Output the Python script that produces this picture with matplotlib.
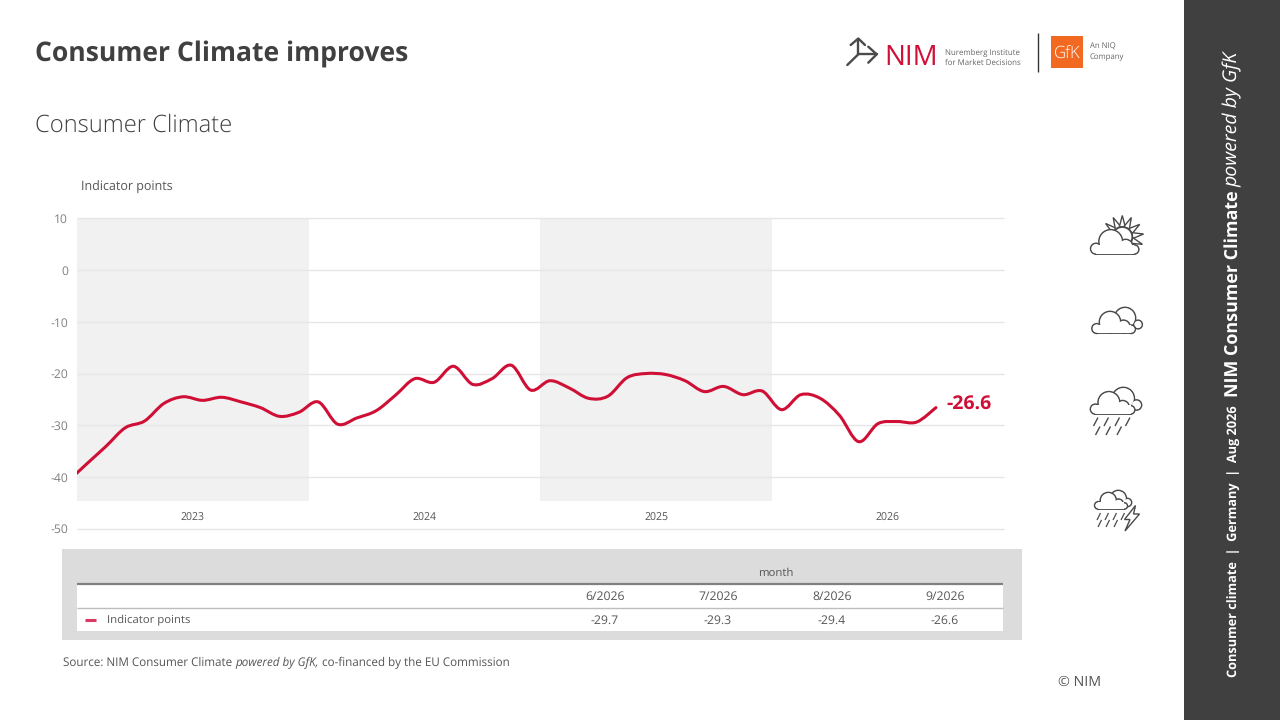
import matplotlib
matplotlib.use("Agg")
import matplotlib.pyplot as plt
from matplotlib.path import Path
from matplotlib.patches import PathPatch, Rectangle, Circle, Polygon
import numpy as np

plt.rcParams['font.family'] = ['Open Sans', 'DejaVu Sans']
plt.rcParams['axes.unicode_minus'] = False
plt.rcParams['lines.solid_capstyle'] = 'butt'
plt.rcParams['text.hinting'] = 'no_hinting'  # widths scale evenly with font size

# monthly values, first one is Dec 2022 (cut off by the axis), last is Sep 2026
values = [-41.0, -37.5, -34.1, -30.5, -29.2, -25.8, -24.5, -25.2, -24.6, -25.5, -26.6, -28.3, -27.5,
          -25.5, -29.8, -28.6, -27.2, -24.2, -21.0, -21.7, -18.6, -22.1, -21.0, -18.4, -23.2,
          -21.4, -22.8, -24.8, -24.4, -20.8, -20.0, -20.2, -21.4, -23.5, -22.5, -24.1, -23.4,
          -27.0, -24.1, -24.8, -28.1, -33.2, -29.7, -29.3, -29.4, -26.6]
months = list(range(-1, 45))
years = [2023, 2024, 2025, 2026]
yticks = [10, 0, -10, -20, -30, -40, -50]

table_months = ["6/2026", "7/2026", "8/2026", "9/2026"]
table_values = ["-29.7", "-29.3", "-29.4", "-26.6"]

RED = "#cf0f35"
DARK = "#404040"
GREY = "#7f7f7f"
ICON = "#4a4a4a"

fig = plt.figure(figsize=(12.8, 7.2), dpi=100, facecolor="white")

# overlay in pixel coordinates for the slide furniture
bg = fig.add_axes([0, 0, 1, 1], zorder=0)
bg.set_xlim(0, 1280)
bg.set_ylim(720, 0)
bg.axis("off")

# chart
ax = fig.add_axes([77/1280, 1-528.5/720, (1003.5-77)/1280, (528.5-218.5)/720], zorder=1)
ax.patch.set_alpha(0)
ax.set_xlim(-0.5, 47.5)
ax.set_ylim(-50, 10)
for s in ax.spines.values():
    s.set_visible(False)
ax.set_yticks(yticks)
ax.set_xticks([])
ax.tick_params(axis="y", length=0, pad=6.5, labelsize=8.7, labelcolor=GREY)
ax.grid(axis="y", color="#e6e6e6", lw=1)
for gl in ax.get_ygridlines():
    gl.set_clip_on(False)
    gl.set_solid_capstyle("butt")
ax.set_axisbelow(True)

for i, yr in enumerate(years):
    if i % 2 == 0:
        ax.fill_between([i*12-0.5, i*12+11.5], -44.6, 10, color="#f1f1f1", lw=0, zorder=0)
    ax.text(i*12+5.5, -47.9, str(yr), ha="center", va="center", fontsize=7.6, color="#555555")


# smoothed line, same look as the office chart (catmull-rom turned into beziers)
def smooth_path(x, y):
    pts = np.column_stack([x, y])
    verts = [pts[0]]
    codes = [Path.MOVETO]
    for k in range(len(pts)-1):
        p0 = pts[max(k-1, 0)]
        p1 = pts[k]
        p2 = pts[k+1]
        p3 = pts[min(k+2, len(pts)-1)]
        verts += [p1+(p2-p0)/6, p2-(p3-p1)/6, p2]
        codes += [Path.CURVE4]*3
    return Path(verts, codes)


ax.add_patch(PathPatch(smooth_path(months, values), fc="none", ec=RED, lw=2.2, capstyle="round", zorder=3))
ax.annotate("-26.6", (months[-1], values[-1]), xytext=(7.5, 2.3), textcoords="offset points",
            color=RED, fontsize=14, fontweight="bold", va="center", ha="left")

# titles
bg.text(35, 55, "Consumer Climate improves", fontsize=19.1, fontweight="bold", color=DARK, va="center")
bg.text(35, 126, "Consumer Climate", fontsize=17.1, color=DARK, va="center", fontweight=300)
bg.text(81, 186.5, "Indicator points", fontsize=9, color="#555555", va="center")

# table
bg.add_patch(Rectangle((62, 549), 960, 91, fc="#dcdcdc", lw=0))
bg.add_patch(Rectangle((77, 584), 926, 47, fc="white", lw=0))
bg.plot([77, 1003], [584, 584], color="#808080", lw=1.6)
bg.plot([77, 1003], [607.5, 607.5], color="#bdbdbd", lw=1)
bg.text(776, 573, "month", ha="center", va="center", fontsize=8.2, color="#555555")
for cx, m, v in zip([605, 718, 832, 945], table_months, table_values):
    bg.text(cx, 597, m, ha="center", va="center", fontsize=8.8, color="#555555")
    bg.text(cx, 620.5, v, ha="center", va="center", fontsize=8.8, color="#555555")
bg.plot([84.5, 96], [620, 620], color="#dc3a62", lw=2.2)
bg.text(107, 620, "Indicator points", va="center", fontsize=8.2, color="#555555")


def run_text(pieces, x, y):
    # pieces of text with different styles, one after the other
    r = fig.canvas.get_renderer()
    for s, kw in pieces:
        t = bg.text(x, y, s, ha="left", va="center", **kw)
        x += t.get_window_extent(r).width


src = dict(fontsize=8.4, color="#555555")
run_text([("Source: NIM Consumer Climate ", src),
          ("powered by GfK,", dict(src, style="italic")),
          (" co-financed by the EU Commission", src)], 63, 662.5)
bg.text(1058, 682, "© NIM", fontsize=10.3, color="#555555", va="center")

# side bar
bg.add_patch(Rectangle((1184, 0), 96, 720, fc=DARK, lw=0))
side = dict(rotation=90, rotation_mode="anchor", ha="left", va="baseline", color="white")
bg.text(1238, 677, "Consumer climate  |  Germany  |  Aug 2026", fontsize=9.17, fontweight="bold", **side)
bg.text(1238, 397, "NIM Consumer Climate", fontsize=12.9, fontweight="bold", **side)
bg.text(1238, 187, "powered by GfK", fontsize=14, style="italic", **side)

# NIM logo
for xs, ys in [([847.3, 858.3], [65, 54.3]), ([858.3, 876.7], [54.3, 54.3]), ([868.3, 876.7, 868.3], [46.7, 54.3, 62.7]),
               ([858.3, 858.3], [38.5, 54.3]), ([850.7, 858.3, 865], [45, 38.5, 45])]:
    bg.plot(xs, ys, color=ICON, lw=1.7, solid_capstyle="round")
bg.text(911.5, 58, "NIM", color=RED, fontsize=20, ha="center", va="center")
bg.text(945, 53, "Nuremberg Institute", fontsize=5.7, color="#666666", va="center")
bg.text(945, 63, "for Market Decisions", fontsize=5.7, color="#666666", va="center")
bg.plot([1038.3, 1038.3], [33, 72], color="#333333", lw=1)
bg.add_patch(Rectangle((1051, 36), 32, 32, fc="#f26a21", lw=0))
bg.text(1067, 53, "GfK", color="white", fontsize=12, ha="center", va="center", fontweight=300)
bg.text(1090, 47, "An NIQ", fontsize=5.6, color="#666666", va="center")
bg.text(1090, 57, "Company", fontsize=5.6, color="#666666", va="center")


# weather icons
def blob(circles, rect, zorder, lw=1.3):
    # dark outlines first, white on top, leaves only the outer edge
    for cx, cy, r in circles:
        bg.add_patch(Circle((cx, cy), r, fc="white", ec=ICON, lw=lw, zorder=zorder))
    if rect is not None:
        bg.add_patch(Rectangle(rect[:2], rect[2], rect[3], fc="white", ec=ICON, lw=lw, zorder=zorder))
    for cx, cy, r in circles:
        bg.add_patch(Circle((cx, cy), r-0.6, fc="white", lw=0, zorder=zorder))
    if rect is not None:
        bg.add_patch(Rectangle((rect[0], rect[1]-1.5), rect[2], rect[3]+1.0, fc="white", lw=0, zorder=zorder))


def cloud(x, bottom, scale=1.0):
    bumps = [(5.3, -5.3, 5.3), (20, -12.5, 11.7), (35, -7.5, 7), (43.5, -4.5, 4.5)]
    circles = [(x+b[0]*scale, bottom+b[1]*scale, b[2]*scale) for b in bumps]
    rect = (circles[0][0], bottom-8*scale, circles[-1][0]-circles[0][0], 8*scale)
    blob(circles, rect, 3)


def back(cx, cy, r, cx2, cy2, r2):
    blob([(cx, cy, r), (cx2, cy2, r2)], None, 2)


# sun
sun = np.array([1122.3, 237])
for a in np.deg2rad([-141, -115, -90, -65, -36, -8, 20]):
    d = np.array([np.cos(a), np.sin(a)])
    n = np.array([-d[1], d[0]])
    bg.add_patch(Polygon([sun+d*10+n*3, sun+d*21.5, sun+d*10-n*3], fc="white", ec=ICON, lw=1, zorder=1))
bg.add_patch(Circle(sun, 10, fc="white", ec=ICON, lw=1.3, zorder=2))
cloud(1090.7, 254)

back(1125, 318, 10.5, 1138, 324.5, 4.2)
cloud(1092, 333.3, 0.9)

back(1123.3, 398.5, 11, 1136.5, 405, 5)
cloud(1090.5, 414, 0.92)
for row, xs in [(0, [1093.5, 1104, 1115, 1125.5]), (1, [1095.5, 1106, 1117])]:
    for x0 in xs:
        y0 = 426 if row == 0 else 435
        bg.plot([x0, x0+4.5], [y0, y0-8.5], color=ICON, lw=1)

back(1118.3, 498.5, 8, 1127.5, 502.5, 4)
cloud(1094.7, 509, 0.68)
for row, xs in [(0, [1097, 1105, 1113, 1121]), (1, [1098, 1106, 1114])]:
    for x0 in xs:
        y0 = 520 if row == 0 else 527
        bg.plot([x0, x0+3.5], [y0, y0-7], color=ICON, lw=0.9)
bg.add_patch(Polygon([(1135.5, 505.5), (1124.5, 519.5), (1130, 519.5), (1125, 531), (1139.5, 514), (1133.5, 514)],
                     fc="white", ec=ICON, lw=1, zorder=3))

fig.savefig("out.png", dpi=100)
